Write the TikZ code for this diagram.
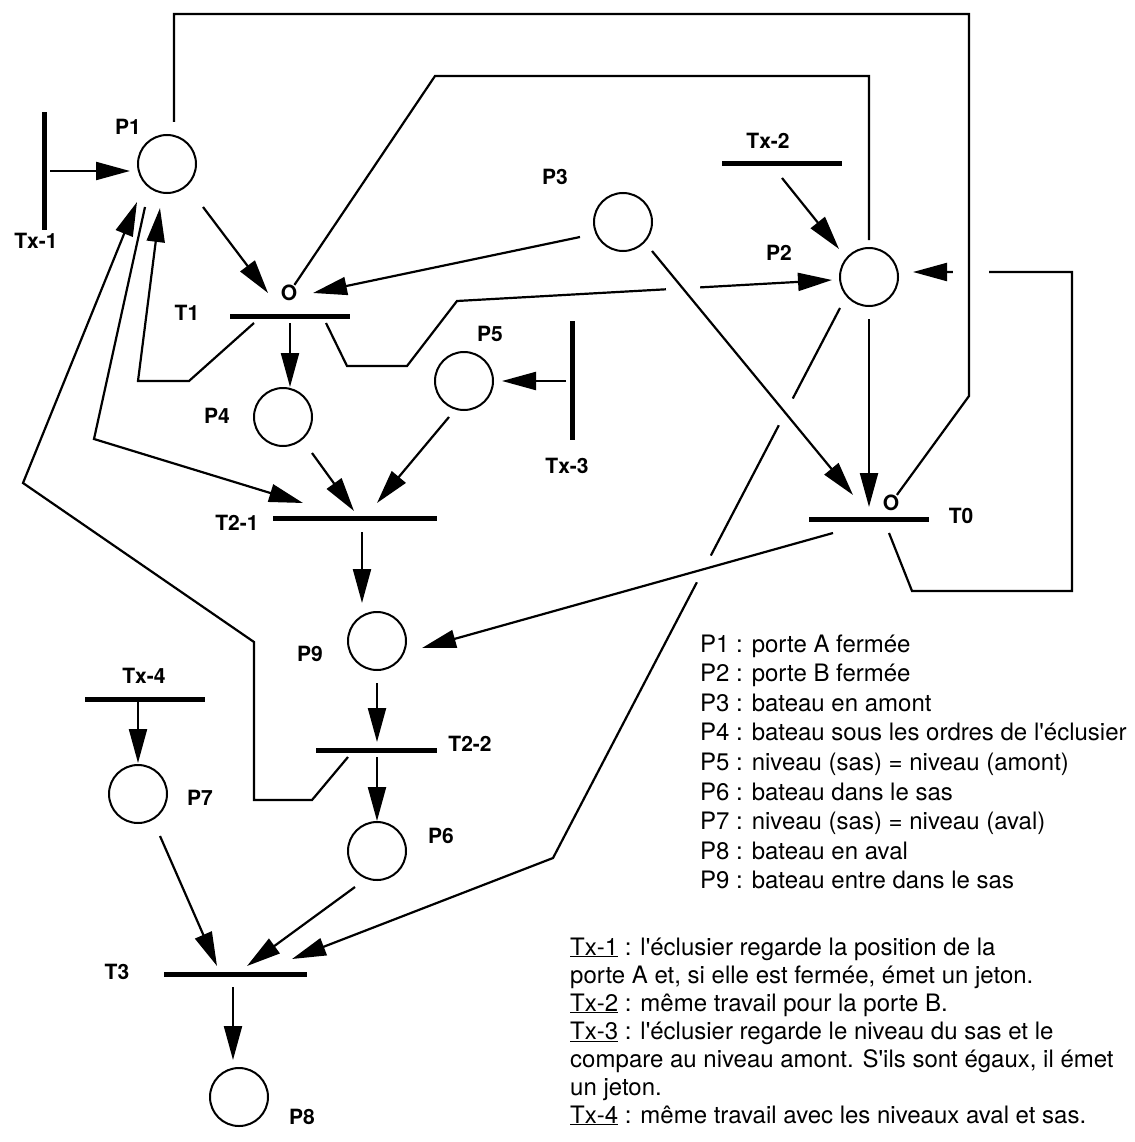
\documentclass[tikz,border=0pt]{standalone}
\usepackage{fontspec}
\setmainfont{TeX Gyre Heros}
\usetikzlibrary{arrows.meta,calc}
\newcommand{\sq}{\textquotesingle}
\begin{document}
\begin{tikzpicture}[x=1pt,y=-1pt,
 pl/.style={draw, circle, line width=2pt, minimum size=58pt, inner sep=0pt},
 hb/.style={fill=black, inner sep=0pt, minimum height=5pt},
 vb/.style={fill=black, inner sep=0pt, minimum width=5pt},
 lb/.style={font=\fontsize{21}{24}\selectfont\bfseries, inner sep=0pt},
 lg/.style={font=\fontsize{24}{28}\selectfont, inner sep=0pt, anchor=base west},
 ar/.style={line width=2.2pt, -{Triangle[length=34pt,width=18pt]}},
 ln2/.style={line width=2.2pt},
 wgap/.style={fill=white}]
\fill[white] (0,0) rectangle (1134,1142);
\useasboundingbox (0,0) rectangle (1134,1142);

% places
\node[pl] (P1) at (167,164) {};
\node[pl] (P2) at (869,277) {};
\node[pl] (P3) at (623,222) {};
\node[pl] (P4) at (283,417) {};
\node[pl] (P5) at (464,381) {};
\node[pl] (P6) at (377,851) {};
\node[pl] (P7) at (138,794) {};
\node[pl] (P8) at (239,1097) {};
\node[pl] (P9) at (377,641) {};

% transitions
\node[hb, minimum width=120pt] (T1) at (290,316) {};
\node[hb, minimum width=164pt] (T21) at (355,518) {};
\node[hb, minimum width=121pt] (T22) at (376.5,750) {};
\node[hb, minimum width=143pt] (T3) at (235.5,974) {};
\node[hb, minimum width=120pt] (T0) at (869,519) {};
\node[vb, minimum height=118pt] (Tx1) at (44,171) {};
\node[hb, minimum width=120pt] (Tx2) at (782,164) {};
\node[vb, minimum height=119pt] (Tx3) at (572,380.5) {};
\node[hb, minimum width=120pt] (Tx4) at (145,699) {};

% labels
\node[lb] (lP1) at (128,127) {P1};
\node[lb] (lTx1) at (36,241) {Tx-1};
\node[lb] (lT1) at (187,313) {T1};
\node[lb] (o1) at (289,293) {O};
\node[lb] (lP3) at (555,177) {P3};
\node[lb] (lP2) at (779,253) {P2};
\node[lb] (lTx2) at (768,141) {Tx-2};
\node[lb] (lP5) at (490,334) {P5};
\node[lb] (lTx3) at (567,466) {Tx-3};
\node[lb] (lP4) at (217,416) {P4};
\node[lb] (lT21) at (237,523) {T2-1};
\node[lb] (lT0) at (961,516) {T0};
\node[lb] (o0) at (891,503) {O};
\node[lb] (lP9) at (310,654) {P9};
\node[lb] (lTx4) at (144,676) {Tx-4};
\node[lb] (lT22) at (470,744) {T2-2};
\node[lb] (lP7) at (200,798) {P7};
\node[lb] (lP6) at (441,836) {P6};
\node[lb] (lT3) at (117,972) {T3};
\node[lb] (lP8) at (302,1117) {P8};

% lower connectors (crossed over)
\draw[ar] ($(T1)+(36,7)$) -- (347,366) -- (407,366) -- (457,301) -- ($(P2)+(-37,3)$);
\draw[ar] ($(P2)+(-29,31)$) -- (553,858) -- ($(T3)+(56.5,-15)$);
\draw[ar] ($(T0)+(20,14)$) -- (912,591) -- (1072,591) -- (1072,272) -- ($(P2)+(44,-5)$);
% gaps
\fill[wgap] (683,288) circle[radius=17];
\fill[wgap] (786,412) circle[radius=15];
\fill[wgap] (704,569) circle[radius=15];
\fill[wgap] (971,272) circle[radius=18];
% upper connectors
\draw[ar] ($(P3)+(29,29)$) -- ($(T0)+(-16,-24)$);
\draw[ar] ($(T0)+(-36,14)$) -- ($(P9)+(45,7)$);
\draw[ln2] ($(P1)+(7,-42)$) -- (174,14) -- (969,14) -- (969,396) -- (o0);

% other connectors
\draw[ar] ($(Tx1)+(6,0)$) -- ($(P1)+(-37,7)$);
\draw[ar] ($(P1)+(36,43)$) -- ($(T1)+(-22,-23)$);
\draw[ln2] ($(P2)+(0,-37)$) -- (869,76) -- (435,76) -- (o1);
\draw[ar] ($(P3)+(-43,15)$) -- ($(T1)+(23,-23)$);
\draw[ar] ($(P2)+(0,42)$) -- ($(T0)+(0,-12)$);
\draw[ar] ($(Tx2)+(0,14)$) -- ($(P2)+(-30,-28)$);
\draw[ar] ($(T1)+(0,7)$) -- ($(P4)+(7,-30)$);
\draw[ar] ($(T1)+(-36,7)$) -- (189,381) -- (138,381) -- ($(P1)+(-7,44)$);
\draw[ar] ($(P1)+(-22,43)$) -- (94,439) -- ($(T21)+(-52,-15)$);
\draw[ar] ($(T22)+(-28.5,7)$) -- (312,800) -- (254,800) -- (254,642) -- (23,483) -- ($(P1)+(-30,38)$);
\draw[ar] ($(P4)+(29,36)$) -- ($(T21)+(-1,-7)$);
\draw[ar] ($(P5)+(-15,36)$) -- ($(T21)+(22,-15)$);
\draw[ar] ($(Tx3)+(-6,0.5)$) -- ($(P5)+(38,0)$);
\draw[ar] ($(T21)+(7,14)$) -- ($(P9)+(-15,-38)$);
\draw[ar] ($(P9)+(0,42)$) -- ($(T22)+(0.5,-8)$);
\draw[ar] ($(T22)+(0.5,7)$) -- ($(P6)+(0,-30)$);
\draw[ar] ($(Tx4)+(-7,2)$) -- ($(P7)+(0,-31)$);
\draw[ar] ($(P7)+(22,42)$) -- ($(T3)+(-18.5,-8)$);
\draw[ar] ($(P6)+(-22,36)$) -- ($(T3)+(11.5,-8)$);
\draw[ar] ($(T3)+(-2.5,13)$) -- ($(P8)+(-6,-37)$);

% legend
\node[lg] (L1) at (700,652) {P1 : porte A fermée};
\node[lg] (L2) at (700,681.6) {P2 : porte B fermée};
\node[lg] (L3) at (700,711.2) {P3 : bateau en amont};
\node[lg] (L4) at (700,740.8) {P4 : bateau sous les ordres de l\sq éclusier};
\node[lg] (L5) at (700,770.4) {P5 : niveau (sas) = niveau (amont)};
\node[lg] (L6) at (700,800) {P6 : bateau dans le sas};
\node[lg] (L7) at (700,829.6) {P7 : niveau (sas) = niveau (aval)};
\node[lg] (L8) at (700,859.2) {P8 : bateau en aval};
\node[lg] (L9) at (700,888.8) {P9 : bateau entre dans le sas};

\node[lg] (M1) at (570,955) {\underline{Tx-1} : l\sq éclusier regarde la position de la};
\node[lg] (M2) at (570,983) {porte A et, si elle est fermée, émet un jeton.};
\node[lg] (M3) at (570,1011) {\underline{Tx-2} : même travail pour la porte B.};
\node[lg] (M4) at (570,1039) {\underline{Tx-3} : l\sq éclusier regarde le niveau du sas et le};
\node[lg] (M5) at (570,1067) {compare au niveau amont. S\sq ils sont égaux, il émet};
\node[lg] (M6) at (570,1095) {un jeton.};
\node[lg] (M7) at (570,1123) {\underline{Tx-4} : même travail avec les niveaux aval et sas.};
\end{tikzpicture}
\end{document}
